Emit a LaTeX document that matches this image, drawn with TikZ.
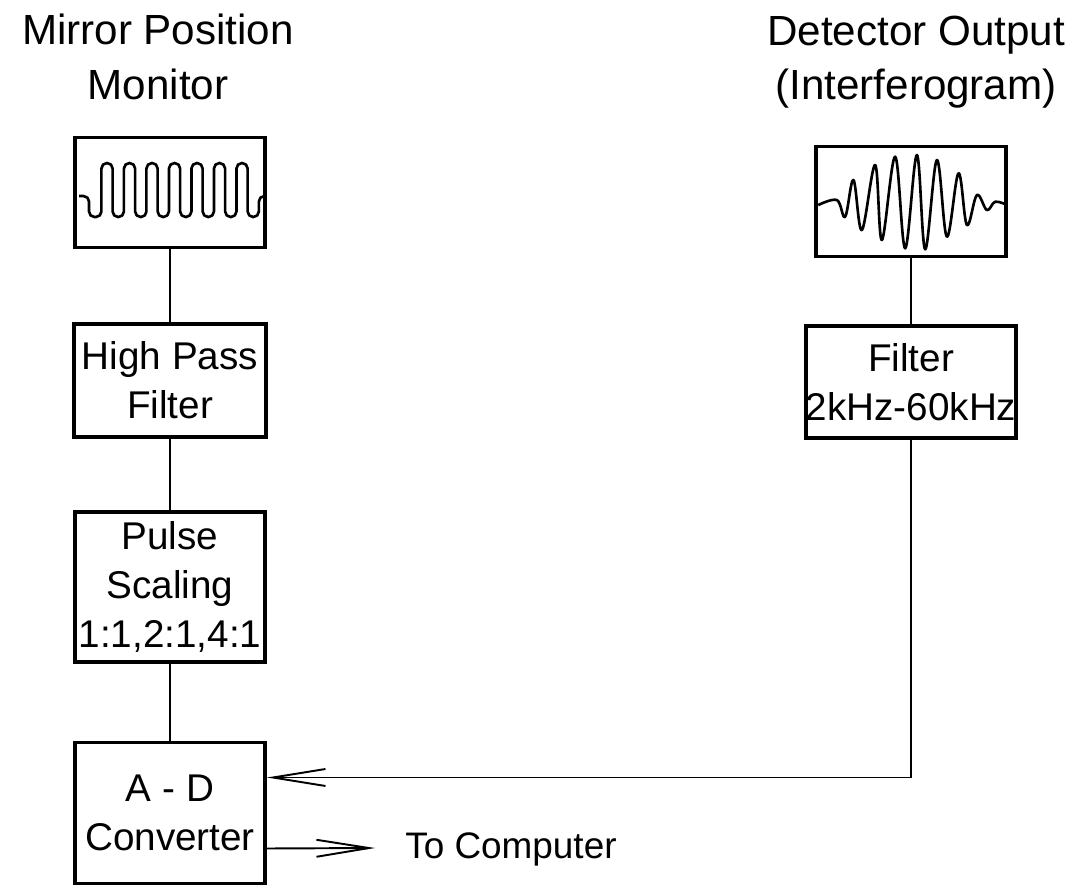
\documentclass[tikz,border=0pt]{standalone}
\usepackage{fontspec}
\setmainfont{Liberation Sans}
\usepackage{tikz}
\usetikzlibrary{arrows.meta,positioning,calc}
\newcommand{\blockfont}{\fontsize{22}{28}\selectfont}
\newcommand{\headfont}{\fontsize{24}{31}\selectfont}
\tikzset{
  basebox/.style={rectangle,draw=black,line width=2.2pt,
                  align=center,inner sep=0pt,font=\blockfont},
  scopebox/.style={basebox,minimum width=3.8cm,minimum height=2.2cm},
  filtbox/.style={basebox,minimum width=3.84cm,minimum height=2.26cm},
  pulsebox/.style={basebox,minimum width=3.8cm,minimum height=3cm},
  convbox/.style={basebox,minimum width=3.8cm,minimum height=2.82cm},
  headnode/.style={align=center,font=\headfont,inner sep=0pt},
  wire/.style={line width=1.1pt},
  arr/.style={-{Straight Barb[length=1.05cm,width=3.4mm]},line width=1.1pt},
  wave/.style={line width=1.5pt,line join=round}
}

\begin{document}
\begin{tikzpicture}

  \useasboundingbox (0,0) rectangle (21.8,17.72);

  % Titles
  \node[headnode] (monhead) at (3.16,16.58) {Mirror Position\\Monitor};
  \node[headnode] (dethead) at (18.32,16.48) {Detector Output\\(Interferogram)};

  % Left chain
  \node[scopebox] (mon) at (3.40,13.87) {};
  \node[filtbox]  (hpf) at (3.40,10.11) {High Pass\\Filter};
  \node[pulsebox] (pls) at (3.40, 5.98) {Pulse\\Scaling\\1:1,2:1,4:1};
  \node[convbox]  (adc) at (3.40, 1.46) {A - D\\Converter};

  % Right chain
  \node[scopebox] (det) at (18.22,13.69) {};
  \node[basebox,minimum width=3.96cm,minimum height=2.24cm] (flt) at (18.22,10.08)
      {Filter\\2kHz-60kHz};

  % Output label
  \node[anchor=west,font=\fontsize{21}{26}\selectfont,inner sep=0pt] (comp) at (8.1,0.74)
      {To Computer};

  % Connections
  \draw[wire] (mon.south) -- (hpf.north);
  \draw[wire] (hpf.south) -- (pls.north);
  \draw[wire] (pls.south) -- (adc.north);
  \draw[wire] (det.south) -- (flt.north);
  \draw[arr] (flt.south) |- ([yshift=0.71cm]adc.east);
  \draw[arr] ([yshift=-0.71cm]adc.east) -- ([xshift=-0.6cm,yshift=0.02cm]comp.west);

  % Traces on the two screens
  \begin{scope}[yshift=17.72cm,x=0.02cm,y=-0.02cm]
    \draw[wave,rounded corners=1.1mm] (79,196) -- (89,196) -- (89,217)
      \foreach \i in {0,...,6} {
        -- ({101.4+22.5*\i},217) -- ({101.4+22.5*\i},163)
        -- ({112.6+22.5*\i},163) -- ({112.6+22.5*\i},217) }
      -- (258.8,217) -- (258.8,196) -- (266,196);
    \draw[wave] plot[smooth,tension=0.6] coordinates {
      (818,205) (836.7,200) (845,216.7) (853.3,180) (861.7,230) (875,165)
      (881.7,240) (895,156.7) (905,248.3) (916.7,155) (925,249.3) (936.7,160)
      (946.7,236.7) (958.3,173.3) (966.7,225) (976.7,195) (986.7,210)
      (995,201.7) (1007,205)};
  \end{scope}

\end{tikzpicture}
\end{document}
